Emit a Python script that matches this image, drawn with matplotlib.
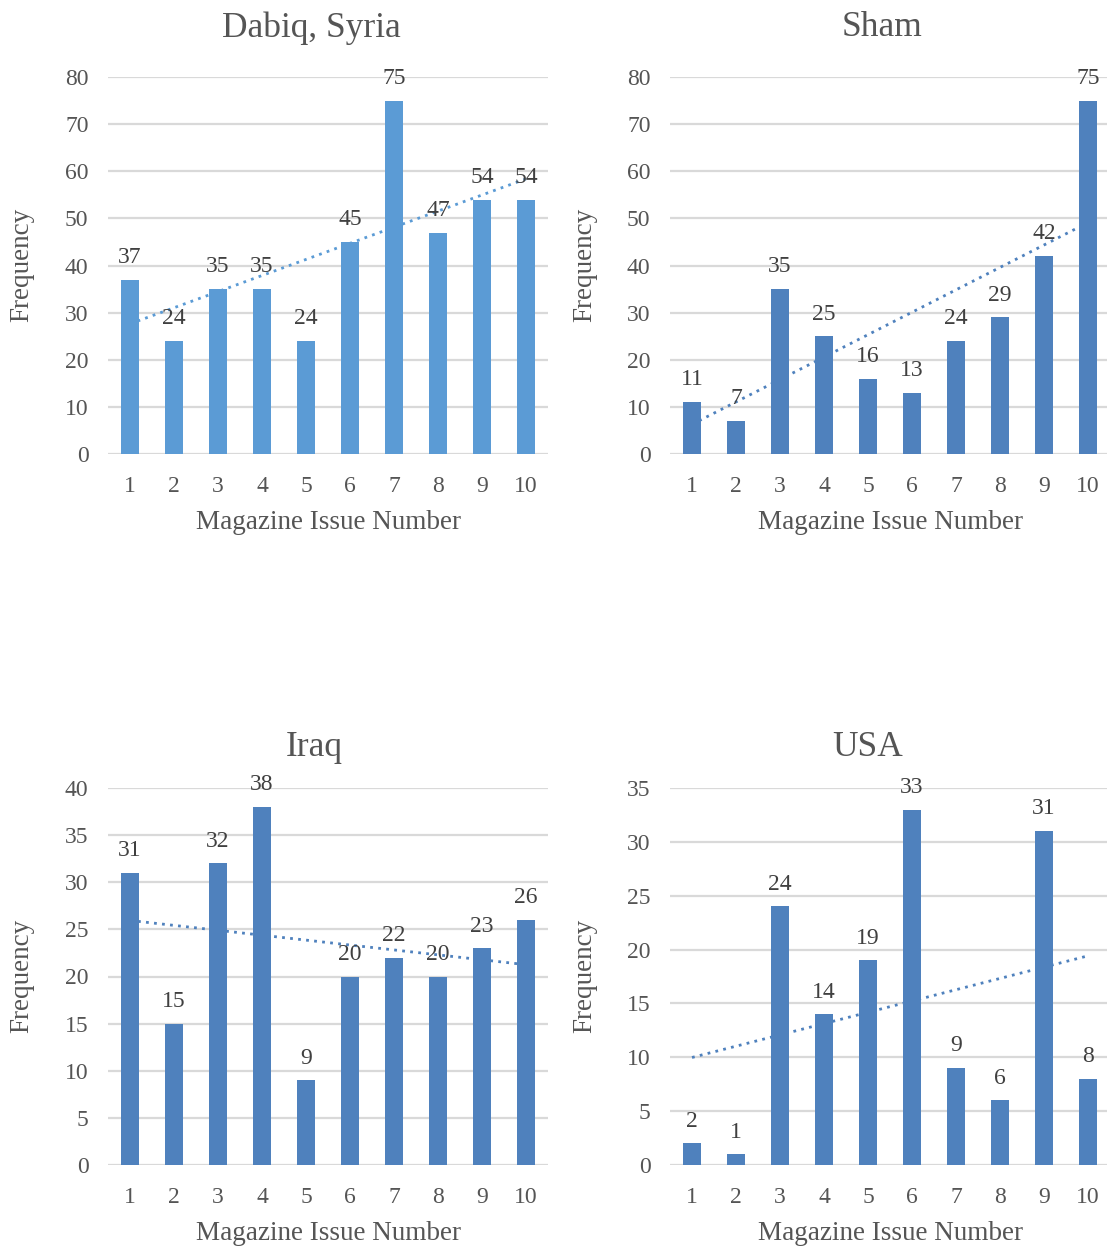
import numpy as np
import matplotlib
matplotlib.use("Agg")
import matplotlib.pyplot as plt

plt.rcParams['font.family'] = ['Liberation Serif', 'DejaVu Serif']

# Frequency per magazine issue, one series per location
issues = [1, 2, 3, 4, 5, 6, 7, 8, 9, 10]
dabiq_syria = [37, 24, 35, 35, 24, 45, 75, 47, 54, 54]
sham = [11, 7, 35, 25, 16, 13, 24, 29, 42, 75]
iraq = [31, 15, 32, 38, 9, 20, 22, 20, 23, 26]
usa = [2, 1, 24, 14, 19, 33, 9, 6, 31, 8]

titles = ["Dabiq, Syria", "Sham", "Iraq", "USA"]
y_ticks = [np.arange(0, 81, 10), np.arange(0, 81, 10),
           np.arange(0, 41, 5), np.arange(0, 36, 5)]

W, H = 1107, 1247
fig = plt.figure(figsize=(W / 100, H / 100), dpi=100)


def rect(l, r, t, b):
    return [l / W, 1 - b / H, (r - l) / W, (b - t) / H]


panels = [
    dict(data=dabiq_syria, color="#5B9BD5", box=(108, 548, 77, 454),
         title_xy=(311, 28), xlabel_xy=(329, 522), ylabel_xy=(22, 265)),
    dict(data=sham, color="#4F81BD", box=(670, 1110, 77, 454),
         title_xy=(882, 28), xlabel_xy=(890, 522), ylabel_xy=(585, 265)),
    dict(data=iraq, color="#4F81BD", box=(108, 548, 788, 1165),
         title_xy=(314, 748), xlabel_xy=(329, 1233), ylabel_xy=(22, 976)),
    dict(data=usa, color="#4F81BD", box=(670, 1110, 788, 1165),
         title_xy=(868, 748), xlabel_xy=(890, 1233), ylabel_xy=(585, 976)),
]

tick_col = "#555555"
label_col = "#404040"
grid_col = "#D9D9D9"

for p, title, yt in zip(panels, titles, y_ticks):
    ax = fig.add_axes(rect(*p["box"]))
    vals = np.array(p["data"], dtype=float)
    x = np.array(issues, dtype=float)

    ax.bar(x, vals, width=0.39, color=p["color"], zorder=2)

    # linear trendline
    k, b = np.polyfit(x, vals, 1)
    ax.plot(x, k * x + b, color=p["color"], lw=2.0,
            linestyle=(0, (1, 1.9)), zorder=3)

    for xi, v in zip(x, vals):
        ax.annotate(f"{int(v)}", (xi, v), xytext=(0, 12),
                    textcoords="offset points", ha="center", va="baseline",
                    fontsize=17, color=label_col, zorder=4)

    ax.set_xlim(0.5, 10.5)
    ax.set_ylim(yt[0], yt[-1])
    ax.set_yticks(yt)
    ax.set_xticks(issues)
    ax.set_xticklabels([str(i) for i in issues])
    ax.yaxis.grid(True, color=grid_col, lw=1.6, zorder=0)
    ax.set_axisbelow(True)
    for s in ax.spines.values():
        s.set_visible(False)
    ax.tick_params(axis="both", length=0, labelsize=17, colors=tick_col)
    ax.tick_params(axis="y", pad=14)
    ax.tick_params(axis="x", pad=15.5)

    tx, ty = p["title_xy"]
    fig.text(tx / W, 1 - ty / H, title, ha="center", va="center",
             fontsize=25.5, color=tick_col)
    lx, ly = p["xlabel_xy"]
    fig.text(lx / W, 1 - ly / H, "Magazine Issue Number", ha="center",
             va="center", fontsize=19.5, color=tick_col)
    vx, vy = p["ylabel_xy"]
    fig.text(vx / W, 1 - vy / H, "Frequency", ha="center", va="center",
             rotation=90, fontsize=19.5, color=tick_col)

fig.savefig("out.png", dpi=100, facecolor="white")
